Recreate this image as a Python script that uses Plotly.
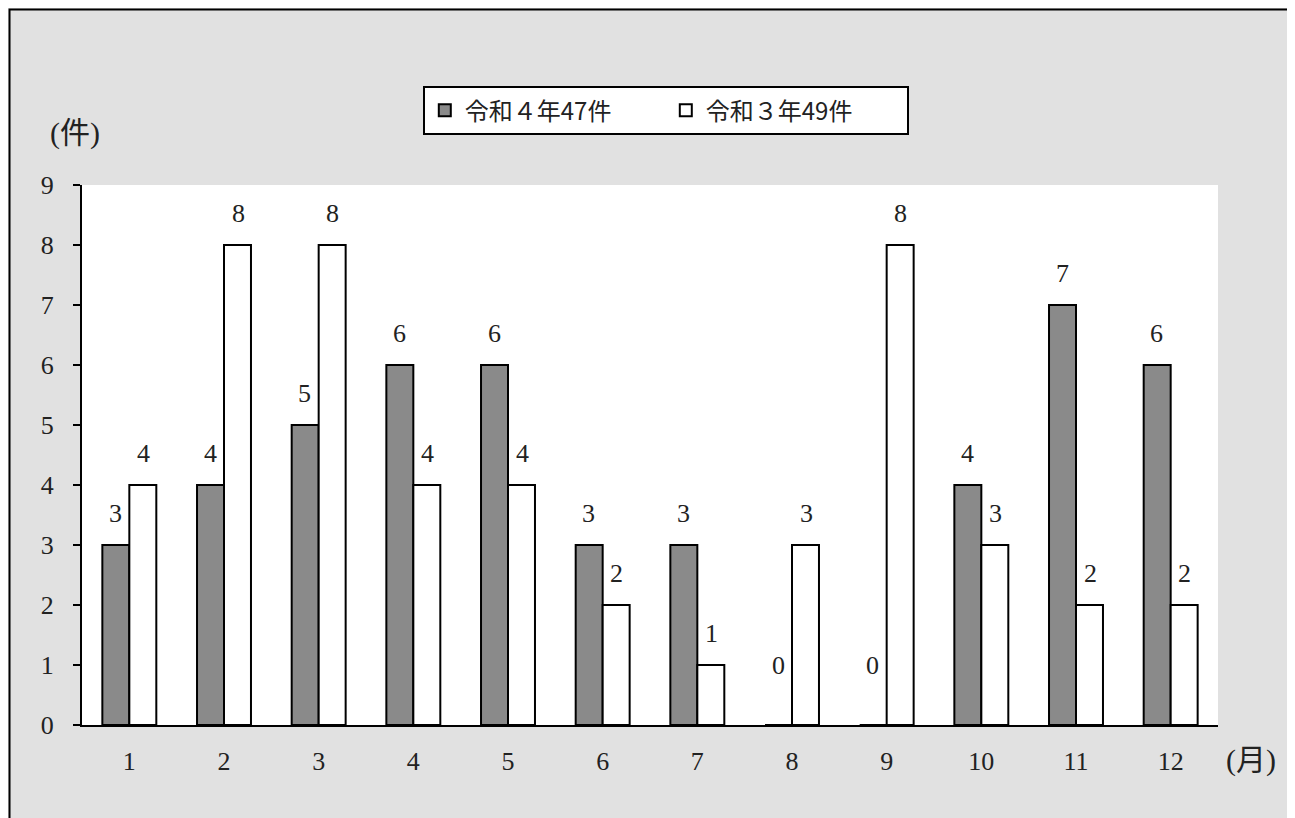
import plotly.graph_objects as go

months = [1, 2, 3, 4, 5, 6, 7, 8, 9, 10, 11, 12]
month_labels = ["1", "2", "3", "4", "5", "6", "7", "8", "9", "10", "11", "12"]
r4_values = [3, 4, 5, 6, 6, 3, 3, 0, 0, 4, 7, 6]
r3_values = [4, 8, 8, 4, 4, 2, 1, 3, 8, 3, 2, 2]
r4_name = "令和４年47件"
r3_name = "令和３年49件"
y_ticks = [0, 1, 2, 3, 4, 5, 6, 7, 8, 9]

SERIF = "Liberation Serif, DejaVu Serif, serif"
JP = "Noto Sans CJK JP, sans-serif"
MIX = "Liberation Serif, Noto Sans CJK JP, serif"

fig = go.Figure()
fig.add_trace(go.Bar(x=months, y=r4_values, name=r4_name,
                     marker=dict(color="#8a8a8a", line=dict(color="black", width=2))))
fig.add_trace(go.Bar(x=months, y=r3_values, name=r3_name,
                     marker=dict(color="white", line=dict(color="black", width=2))))

# value labels
for series, shift in ((r4_values, -14), (r3_values, 14)):
    for m, v in zip(months, series):
        fig.add_annotation(x=m, y=v, text=str(v), showarrow=False,
                           xshift=shift, yshift=32 if v > 0 else 60,
                           xanchor="center", yanchor="middle",
                           font=dict(family=SERIF, size=26, color="#222"))

fig.add_annotation(xref="paper", yref="paper", x=-0.0065, y=1.096, text="(件)",
                   xanchor="center", yanchor="middle",
                   showarrow=False, font=dict(family=MIX, size=30, color="#222"))
fig.add_annotation(xref="paper", yref="paper", x=1.0290, y=-0.065, text="(月)",
                   xanchor="center", yanchor="middle",
                   showarrow=False, font=dict(family=MIX, size=30, color="#222"))

# outer frame
fig.add_shape(type="rect", xref="paper", yref="paper",
              x0=-0.0638, x1=1.0643, y0=-0.3, y1=1.325,
              line=dict(color="black", width=2), fillcolor="rgba(0,0,0,0)", layer="below")

fig.update_layout(
    width=1284, height=810,
    margin=dict(l=74, r=74, t=177, b=93),
    paper_bgcolor="#e1e1e1",
    plot_bgcolor="white",
    barmode="group",
    bargap=0.43,
    bargroupgap=0,
    showlegend=True,
    legend=dict(orientation="h", x=0.300, y=1.183, xanchor="left", yanchor="top",
                bgcolor="white", bordercolor="black", borderwidth=2,
                font=dict(family=JP, size=24, color="#222"),
                entrywidth=196, entrywidthmode="pixels",
                traceorder="normal"),
    xaxis=dict(tickmode="array", tickvals=months, ticktext=month_labels,
               range=[0.5, 12.5], showline=True, linecolor="black", linewidth=2,
               ticks="", showgrid=False, zeroline=False, ticklabelstandoff=12,
               tickfont=dict(family=SERIF, size=26, color="#222")),
    yaxis=dict(range=[0, 9], tickvals=y_ticks, showline=True, linecolor="black",
               linewidth=2, ticks="outside", ticklen=7, tickwidth=2, tickcolor="black",
               showgrid=False, zeroline=False, ticklabelstandoff=14,
               tickfont=dict(family=SERIF, size=26, color="#222")),
)

fig.write_html("out.html")
